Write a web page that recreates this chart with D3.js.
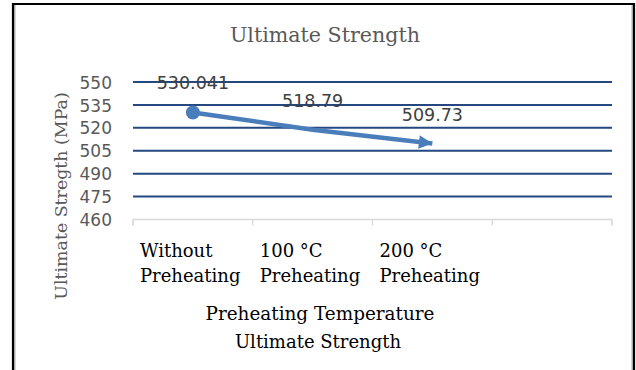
<!DOCTYPE html>
<html>
<head>
<meta charset="utf-8">
<script src="https://cdn.jsdelivr.net/npm/d3@7"></script>
<style>
html,body{margin:0;padding:0;background:#fff;}
svg{display:block;}
</style>
</head>
<body>
<div id="chart"></div>
<script>
const categories = ["Without Preheating", "100 °C Preheating", "200 °C Preheating", ""];
const categoryLines = [["Without", "Preheating"], ["100 °C", "Preheating"], ["200 °C", "Preheating"], []];
const values = [530.041, 518.79, 509.73];
const valueLabels = ["530.041", "518.79", "509.73"];
const yTicks = [460, 475, 490, 505, 520, 535, 550];
const chartTitle = "Ultimate Strength";
const xTitle = "Preheating Temperature";
const yTitle = "Ultimate Stregth (MPa)";
const legendText = "Ultimate Strength";

const W = 636, H = 370;
const svg = d3.select("#chart").append("svg").attr("width", W).attr("height", H);

// frame
svg.append("line").attr("x1", 13).attr("x2", 13).attr("y1", 3).attr("y2", H).attr("stroke", "#000").attr("stroke-width", 2.2);
svg.append("line").attr("x1", 634).attr("x2", 634).attr("y1", 3).attr("y2", H).attr("stroke", "#000").attr("stroke-width", 2.2);
svg.append("line").attr("x1", 12).attr("x2", 635).attr("y1", 4).attr("y2", 4).attr("stroke", "#000").attr("stroke-width", 2.2);
svg.append("line").attr("x1", 14.8).attr("x2", 14.8).attr("y1", 5).attr("y2", H).attr("stroke", "#999").attr("stroke-width", 1.2);
svg.append("line").attr("x1", 632.2).attr("x2", 632.2).attr("y1", 5).attr("y2", H).attr("stroke", "#999").attr("stroke-width", 1.2);

const x = d3.scaleBand().domain(categories).range([133, 612]).padding(0);
const y = d3.scaleLinear().domain([460, 550]).range([219.5, 82]);

// gridlines
svg.append("g").selectAll("line").data(yTicks.filter(t => t !== 460)).join("line")
  .attr("x1", 133).attr("x2", 612)
  .attr("y1", d => y(d)).attr("y2", d => y(d))
  .attr("stroke", "#24487f").attr("stroke-width", 2);

// x axis
const xAxis = d3.axisBottom(x).tickSize(6).tickFormat("");
const gx = svg.append("g").attr("transform", `translate(0,${y(460)})`).call(xAxis);
gx.select(".domain").attr("stroke", "#d9d9d9").attr("stroke-width", 1.3).attr("d", `M133,6V0H612V6`);
gx.selectAll(".tick").remove();
gx.selectAll(".bnd").data(categories.concat(["end"])).join("line")
  .attr("x1", (d, i) => i < categories.length ? x(d) : x(categories[categories.length - 1]) + x.bandwidth())
  .attr("x2", (d, i) => i < categories.length ? x(d) : x(categories[categories.length - 1]) + x.bandwidth())
  .attr("y1", 0).attr("y2", 6).attr("stroke", "#d9d9d9").attr("stroke-width", 1.3);

// y axis labels
const yAxis = d3.axisLeft(y).tickValues(yTicks).tickSize(0).tickPadding(0);
const gy = svg.append("g").attr("transform", "translate(112,0)").call(yAxis);
gy.select(".domain").remove();
gy.selectAll("text").attr("font-family", "DejaVu Sans").attr("font-size", 17).attr("fill", "#595959").attr("dy", "0.36em");

// category labels
const cl = svg.append("g");
categories.forEach((c, i) => {
  const t = cl.append("text").attr("x", x(c) + 7).attr("y", 257)
    .attr("font-family", "DejaVu Serif").attr("font-size", 18).attr("fill", "#000");
  categoryLines[i].forEach((ln, j) => {
    t.append("tspan").attr("x", x(c) + 7).attr("dy", j === 0 ? 0 : 24.5).text(ln);
  });
});

// line series
const pts = values.map((v, i) => [x(categories[i]) + x.bandwidth() / 2, y(v)]);
svg.append("defs").append("marker").attr("id", "arr")
  .attr("viewBox", "0 0 10 10").attr("refX", 10).attr("refY", 5)
  .attr("markerWidth", 3.4).attr("markerHeight", 3).attr("markerUnits", "strokeWidth")
  .attr("orient", "auto")
  .append("path").attr("d", "M0,0L10,5L0,10z").attr("fill", "#4a7ebb");
svg.append("path").datum(pts)
  .attr("d", d3.line())
  .attr("fill", "none").attr("stroke", "#4a7ebb").attr("stroke-width", 4.5)
  .attr("marker-end", "url(#arr)");
svg.append("circle").attr("cx", pts[0][0]).attr("cy", pts[0][1]).attr("r", 7).attr("fill", "#4a7ebb");

// data labels
svg.append("g").selectAll("text").data(values).join("text")
  .attr("x", (d, i) => pts[i][0]).attr("y", (d, i) => pts[i][1] - 23)
  .attr("text-anchor", "middle")
  .attr("font-family", "DejaVu Sans").attr("font-size", 17.5).attr("fill", "#404040")
  .text((d, i) => valueLabels[i]);

// titles
svg.append("text").attr("x", 325).attr("y", 42).attr("text-anchor", "middle")
  .attr("font-family", "DejaVu Serif").attr("font-size", 20.6).attr("fill", "#595959").text(chartTitle);
svg.append("text").attr("x", 320).attr("y", 320).attr("text-anchor", "middle")
  .attr("font-family", "DejaVu Serif").attr("font-size", 18.4).attr("fill", "#000").text(xTitle);
svg.append("text").attr("x", 318).attr("y", 348).attr("text-anchor", "middle")
  .attr("font-family", "DejaVu Serif").attr("font-size", 18).attr("fill", "#000").text(legendText);
svg.append("text").attr("transform", "translate(67,196) rotate(-90)").attr("text-anchor", "middle")
  .attr("font-family", "DejaVu Serif").attr("font-size", 17.4).attr("fill", "#595959").text(yTitle);
</script>
</body>
</html>
